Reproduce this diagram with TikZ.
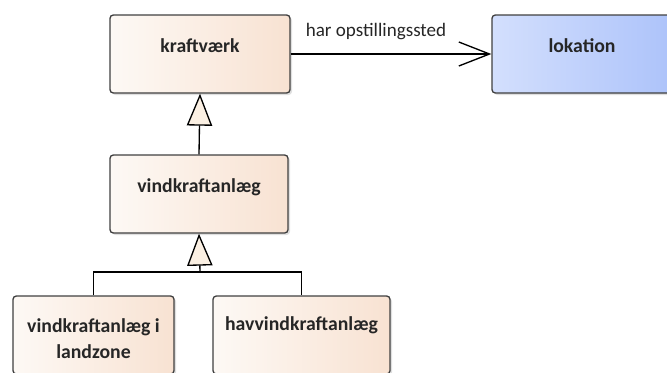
\documentclass[tikz,border=0pt]{standalone}
\usepackage{fontspec}
\setmainfont{Carlito}
\usetikzlibrary{arrows.meta,shadows}

\definecolor{klasseLys}{HTML}{FDF9F5}
\definecolor{klasseMork}{HTML}{F8E2D2}
\definecolor{stedLys}{HTML}{D3DFFD}
\definecolor{stedMork}{HTML}{ADC3FA}
\definecolor{trekant}{HTML}{FBF0E3}

\tikzset{
  klasse/.style={draw=black!75, line width=1pt, rounded corners=2.5pt,
    left color=klasseLys, right color=klasseMork,
    drop shadow={shadow xshift=1.5pt, shadow yshift=-1.5pt, opacity=0.25}},
  sted/.style={klasse, left color=stedLys, right color=stedMork},
  navn/.style={font=\bfseries\fontsize{14.8}{20}\selectfont, text=black!85, align=center, inner sep=0pt},
  relnavn/.style={font=\fontsize{14.3}{17}\selectfont, text=black!85, inner sep=0pt},
  assoc/.style={line width=1pt, -{Straight Barb[length=23pt, width=18pt, line width=1pt]}},
  gen/.style={line width=1pt, -{Triangle[open, fill=trekant, length=24pt, width=19pt]}}
}

\begin{document}
\begin{tikzpicture}[x=0.75pt, y=-0.75pt]
\clip (0,0) rectangle (667,372);

% klasser (boks + navn)
\node[klasse, minimum width=135pt, minimum height=58.5pt] (kraft) at (200,54) {};
\node[navn] (kraft-navn) at (200,46) {kraftværk};
\node[sted, minimum width=135pt, minimum height=58.5pt] (lok) at (582,54) {};
\node[navn] (lok-navn) at (582,46) {lokation};
\node[klasse, minimum width=133.5pt, minimum height=58.5pt] (vind) at (199,194) {};
\node[navn] (vind-navn) at (199,187) {vindkraftanlæg};
\node[klasse, minimum width=120.75pt, minimum height=58.5pt] (land) at (93.5,335) {};
\node[navn] (land-navn) at (93.5,338.5) {vindkraftanlæg i\\landzone};
\node[klasse, minimum width=132.75pt, minimum height=58.5pt] (hav) at (301.5,335) {};
\node[navn] (hav-navn) at (301.5,325) {havvindkraftanlæg};

% association
\draw[assoc] (kraft.east) -- (lok.west);
\node[relnavn] (rel) at (376,32) {har opstillingssted};

% generalisering
\draw[gen] (vind.north) -- (kraft.south);
\coordinate (split) at (200,272);
\draw[line width=1pt] (land.north) |- (split) -| (hav.north);
\draw[gen] (split) -- (vind.south);
\end{tikzpicture}
\end{document}
